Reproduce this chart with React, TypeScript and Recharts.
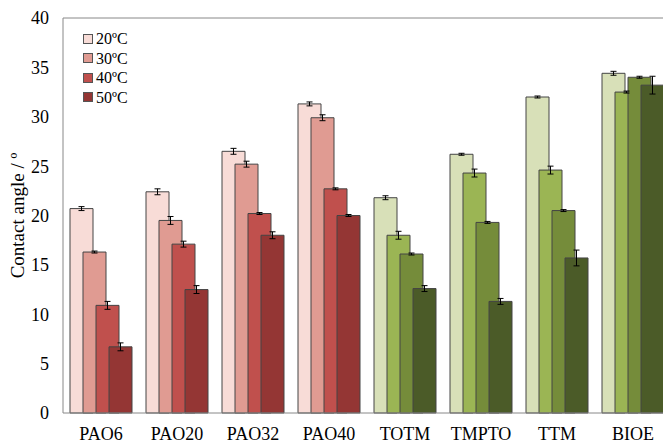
import { BarChart, Bar, XAxis, YAxis, ErrorBar, Cell, ReferenceLine, Label } from 'recharts';

const categories = ['PAO6', 'PAO20', 'PAO32', 'PAO40', 'TOTM', 'TMPTO', 'TTM', 'BIOE'];
const temps = ['20ºC', '30ºC', '40ºC', '50ºC'];

const v20 = [20.7, 22.4, 26.5, 31.3, 21.8, 26.2, 32.0, 34.4];
const v30 = [16.3, 19.5, 25.2, 29.9, 18.0, 24.3, 24.6, 32.5];
const v40 = [10.9, 17.1, 20.2, 22.7, 16.1, 19.3, 20.5, 34.0];
const v50 = [6.7, 12.5, 18.0, 20.0, 12.6, 11.3, 15.7, 33.2];

const e20 = [0.2, 0.3, 0.3, 0.2, 0.2, 0.1, 0.1, 0.2];
const e30 = [0.1, 0.4, 0.3, 0.3, 0.4, 0.4, 0.4, 0.1];
const e40 = [0.4, 0.3, 0.1, 0.1, 0.1, 0.1, 0.1, 0.1];
const e50 = [0.4, 0.4, 0.35, 0.1, 0.3, 0.3, 0.8, 0.9];

const yTicks = [0, 5, 10, 15, 20, 25, 30, 35, 40];

const reds = ['#f8dcd7', '#e09b92', '#c0504d', '#943634'];
const greens = ['#d8e0b8', '#9bb554', '#758c3a', '#4b5b28'];

const data = categories.map((name, i) => ({
    name,
    t20: v20[i], t30: v30[i], t40: v40[i], t50: v50[i],
    e20: e20[i], e30: e30[i], e40: e40[i], e50: e50[i]
}));

const font = '"Liberation Serif", "Times New Roman", serif';

// legend drawn as an overlay so it doesn't eat plot space
function LegendBox() {
    return (
        <div style={{ position: 'absolute', left: 83, top: 29, fontFamily: font, fontSize: 16, color: '#000', lineHeight: '19.5px' }}>
            {temps.map((t, i) => (
                <div key={t} style={{ display: 'flex', alignItems: 'center', height: 19.5 }}>
                    <span style={{ width: 8, height: 8, background: reds[i], border: '1px solid #555', marginRight: 3 }} />
                    <span>{t}</span>
                </div>
            ))}
        </div>
    );
}

export default function App() {
    const keys = ['t20', 't30', 't40', 't50'];
    const errs = ['e20', 'e30', 'e40', 'e50'];
    return (
        <div style={{ position: 'fixed', left: 0, top: 0, width: 663, height: 443, overflow: 'hidden', background: '#fff' }}>
            <BarChart width={671} height={443} data={data} margin={{ top: 18, right: 0, left: 0, bottom: 0 }}
                barSize={23} barGap={-10}>
                <XAxis dataKey='name' height={30} tickLine={false} axisLine={{ stroke: '#888' }}
                    tick={{ fontFamily: font, fontSize: 18, fill: '#000' }} tickMargin={8} />
                <YAxis width={63} domain={[0, 40]} ticks={yTicks} tickLine={false} axisLine={{ stroke: '#888' }}
                    tick={{ fontFamily: font, fontSize: 18, fill: '#000' }} tickMargin={8}>
                    <Label value='Contact angle / º' angle={-90} position='center' dx={-14}
                        style={{ fontFamily: font, fontSize: 19, fill: '#000' }} />
                </YAxis>
                <ReferenceLine y={40} stroke='#888' />
                {keys.map((k, j) => (
                    <Bar key={k} dataKey={k} name={temps[j]} fill={reds[j]} stroke='#444' strokeWidth={1} isAnimationActive={false}>
                        {categories.map((c, i) => (
                            <Cell key={c} fill={i < 4 ? reds[j] : greens[j]} />
                        ))}
                        <ErrorBar dataKey={errs[j]} width={3} stroke='#000' strokeWidth={1} />
                    </Bar>
                ))}
            </BarChart>
            <LegendBox />
        </div>
    );
}
